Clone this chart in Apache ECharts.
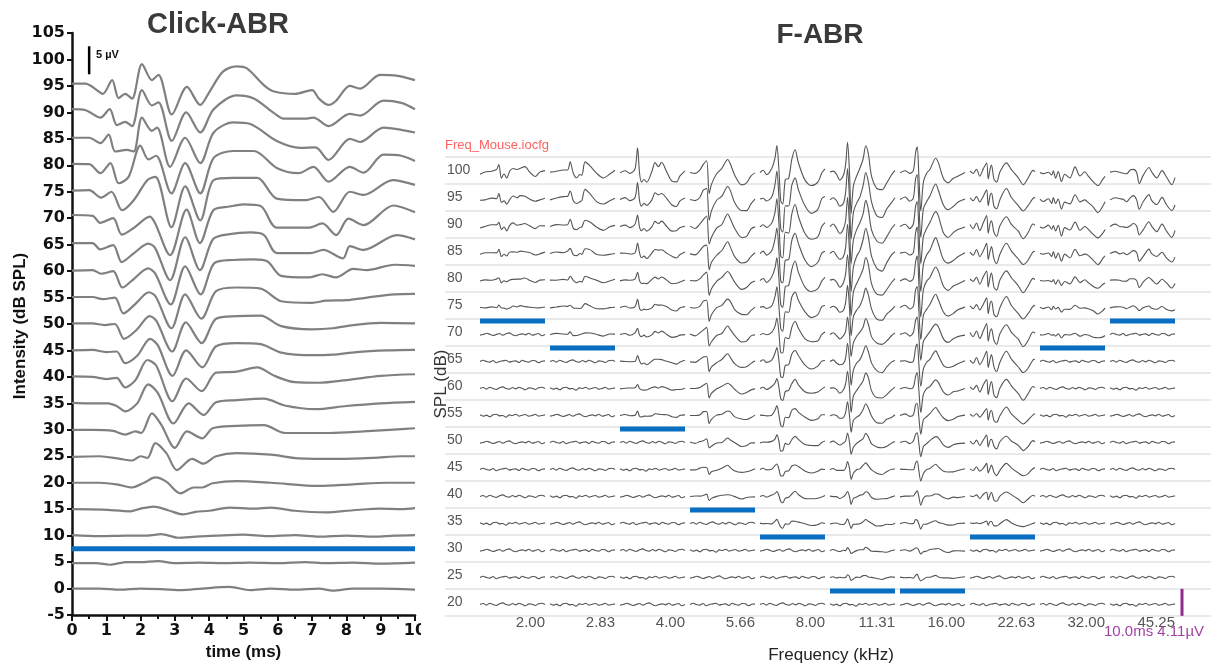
<!DOCTYPE html>
<html>
<head>
<meta charset="utf-8">
<script src="https://cdn.jsdelivr.net/npm/echarts@6/dist/echarts.min.js"></script>
<style>
html,body{margin:0;padding:0;background:#fff}
#chart{width:1211px;height:666px}
</style>
</head>
<body>
<div id="chart"></div>
<script>
// ================= Click-ABR (left panel) =================
// Each trace: [time (ms), deflection in dB-axis units] around its stimulus level.
const clickLevels = [95,90,85,80,75,70,65,60,55,50,45,40,35,30,25,20,15,10,5,0];
const click95 = [[0,0.45],[0.4,0.45],[0.6,-0.2],[0.9,-1.5],[1.17,1.1],[1.36,-2.3],[1.55,-1.5],[1.75,-2.4],[2.04,4.1],[2.33,1.1],[2.52,2.1],[2.91,-5.4],[3.35,-0.2],[3.74,-3.6],[4.0,-1.2],[4.4,2.7],[4.8,3.7],[5.1,3.3],[5.6,0.1],[5.87,-1.0],[6.5,-1.5],[7.0,-0.8],[7.2,-2.4],[7.48,-3.6],[7.7,-2.8],[8.1,0],[8.4,-0.5],[8.98,2.1],[9.5,1.9],[10,1.1]];
const click90 = [[0,0.6],[0.4,0.4],[0.83,-1.0],[1.1,0.6],[1.31,-2.4],[1.55,-1.8],[1.75,-2.6],[2.04,4.2],[2.33,1.3],[2.52,1.9],[2.91,-5.4],[3.33,0],[3.74,-3.8],[4.13,0.6],[4.8,3.2],[5.3,2.6],[5.9,-0.2],[6.17,-1.2],[6.8,-1.2],[7.04,-1.0],[7.48,-2.6],[8.1,-0.3],[8.4,-0.6],[9.08,2.2],[9.6,1.8],[10,0.6]];
const click85 = [[0,0.2],[0.5,0.2],[0.83,-0.8],[1.07,0.8],[1.26,-2.4],[1.6,-2.1],[1.8,-2.4],[2.04,4.0],[2.33,1.5],[2.48,2.1],[2.86,-5.3],[3.3,0.2],[3.74,-4.6],[4.13,1.2],[4.7,3.1],[5.2,2.8],[5.97,-0.4],[6.65,-1.7],[7.1,-1.6],[7.48,-4.0],[8.1,0],[8.4,-0.6],[9.08,2.1],[9.6,1.7],[10,1.2]];
const click80 = [[0,0.25],[0.5,0.2],[0.83,-1.5],[1.12,0.4],[1.36,-3.4],[1.65,-2.2],[1.99,3.7],[2.23,1.1],[2.45,1.8],[2.9,-5.3],[3.3,0.4],[3.74,-5.3],[4.13,1.4],[4.7,2.7],[5.3,2.7],[5.97,-0.5],[6.6,-1.5],[7.04,-0.3],[7.48,-3.1],[8.1,-0.3],[8.5,-1.4],[9.08,2.0],[9.6,1.8],[10,0.8]];
const click75 = [[0,0.2],[0.5,0.3],[0.85,-1.1],[1.15,0],[1.46,-3.5],[1.8,-1.6],[2.2,2.2],[2.43,2.8],[2.9,-6.7],[3.3,1.0],[3.74,-5.4],[4.13,2.2],[4.7,2.6],[5.4,2.6],[5.97,-1.3],[6.8,-1.6],[7.2,-1.0],[7.62,-3.8],[8.1,0],[8.5,-0.6],[9.35,2.2],[10,1.3]];
const click70 = [[0,0.6],[0.6,0.45],[0.82,-0.9],[1.2,0],[1.45,-3.1],[1.79,-1.9],[2.27,0.3],[2.42,-0.9],[2.86,-7.0],[3.34,1.6],[3.73,-4.7],[4.12,1.5],[4.6,2.2],[5.0,2.6],[5.5,2.3],[5.97,-1.8],[6.9,-1.8],[7.3,-1.0],[7.7,-3.2],[8.06,-0.1],[8.5,-1.3],[9.37,2.4],[10,1.1]];
const click65 = [[0,0.3],[0.6,0.3],[0.82,-0.9],[1.2,-0.1],[1.45,-3.3],[1.79,-1.7],[2.22,0.2],[2.42,-0.6],[2.86,-6.7],[3.3,1.4],[3.73,-4.8],[4.12,1.1],[4.6,2.0],[5.2,2.3],[5.6,1.8],[5.97,-1.6],[6.95,-1.6],[7.33,-1.0],[7.9,-2.6],[8.1,-0.3],[8.5,-1.0],[9.47,1.8],[10,1.0]];
const click60 = [[0,0.1],[0.6,0.2],[0.85,-0.5],[1.2,0],[1.47,-3.1],[1.8,-1.5],[2.22,0.5],[2.42,-0.4],[2.88,-6.3],[3.3,0.9],[3.75,-4.4],[4.15,1.5],[4.7,2.1],[5.3,2.2],[5.7,1.8],[6.1,-0.9],[6.9,-1.2],[7.3,-0.6],[7.7,-1.2],[8.2,0.4],[8.6,0.2],[9.4,1.2],[10,1.0]];
const click55 = [[0,0.1],[0.6,0.1],[0.9,-0.3],[1.25,0],[1.5,-3.0],[1.85,-1.2],[2.24,1.0],[2.44,0.2],[2.9,-5.8],[3.3,0.6],[3.77,-4.0],[4.2,1.2],[4.8,1.9],[5.5,1.7],[6.1,-0.7],[7.0,-1.0],[7.4,-0.6],[8.0,-0.5],[8.6,0],[9.4,0.6],[10,0.7]];
const click50 = [[0,0.1],[0.6,0.1],[0.95,-0.2],[1.25,0],[1.52,-2.8],[1.9,-1.0],[2.26,1.5],[2.46,0.6],[2.92,-5.2],[3.32,0.3],[3.78,-3.6],[4.2,1.0],[4.8,1.5],[5.5,1.6],[6.1,-0.4],[7.0,-1.0],[7.6,-0.8],[8.2,-0.2],[9.0,0.2],[10,0.1]];
const click45 = [[0,0],[0.6,0.1],[1.0,-0.3],[1.3,-0.2],[1.55,-2.4],[1.9,-1.0],[2.28,2.2],[2.5,1.0],[2.93,-4.8],[3.33,0],[3.8,-3.2],[4.2,0.8],[4.8,1.4],[5.5,1.2],[6.1,-0.4],[7.0,-0.9],[7.6,-0.8],[8.3,-0.3],[9.2,0],[10,0.1]];
const click40 = [[0,0.1],[0.6,0],[1.0,-0.4],[1.3,-0.2],[1.55,-2.0],[1.85,-0.6],[2.2,3.2],[2.45,2.2],[2.93,-4.6],[3.33,-0.3],[3.78,-2.7],[4.2,0.8],[4.8,1.0],[5.4,1.8],[5.9,0.2],[6.5,-1.0],[7.2,-1.1],[8.0,-0.6],[9.0,0.2],[10,0.5]];
const click35 = [[0,0.1],[0.6,0],[1.05,0],[1.3,-0.5],[1.55,-1.5],[1.9,0],[2.22,3.6],[2.5,2.0],[2.96,-3.8],[3.4,0],[3.84,-2.2],[4.2,0.2],[4.8,0.6],[5.6,0.9],[6.2,-0.4],[7.1,-1.1],[8.0,-0.5],[9.0,0],[10,0.3]];
const click30 = [[0,0],[0.6,0],[1.2,-0.2],[1.55,-0.9],[1.85,-0.3],[2.02,-0.6],[2.33,3.1],[2.6,1.0],[3.0,-3.4],[3.35,-0.3],[3.8,-1.6],[4.1,0.3],[4.8,0.75],[5.6,0.9],[6.2,-0.6],[7.5,-0.6],[8.5,-0.3],[9.5,0.1],[10,0.3]];
const click25 = [[0,-0.1],[0.8,0],[1.4,-0.5],[1.75,-0.8],[2.0,0],[2.2,-0.3],[2.43,2.5],[2.75,0.6],[3.06,-2.6],[3.5,-0.5],[3.83,-1.4],[4.2,0],[4.8,0.6],[5.8,0.3],[6.6,-0.4],[7.8,-0.5],[8.8,-0.3],[9.6,0],[10,0]];
const click20 = [[0,0],[0.8,0],[1.3,-0.3],[1.75,-0.9],[2.1,0],[2.43,1.0],[2.75,0.2],[3.16,-2.0],[3.55,-0.9],[3.8,-0.9],[4.1,-0.1],[4.8,0.3],[5.8,0],[7.2,-0.6],[8.2,-0.3],[9.2,0],[10,0]];
const click15 = [[0,0],[0.9,-0.1],[1.7,-0.4],[2.0,0.1],[2.38,0.5],[2.8,-0.2],[3.25,-1.0],[3.6,-0.5],[4.0,-0.3],[4.6,0.3],[5.3,0.1],[5.8,0.3],[6.5,-0.3],[7.4,-0.6],[8.2,-0.2],[9.0,0.1],[9.6,0],[10,0.2]];
const click10 = [[0,0.1],[0.8,-0.1],[1.6,0],[2.2,0],[2.6,0.3],[3.1,-0.4],[3.6,-0.2],[4.2,0],[5.0,0.2],[5.7,-0.1],[6.5,0.1],[7.2,-0.2],[8.0,0],[8.8,-0.2],[9.4,0],[10,0.1]];
const click5 = [[0,-0.2],[0.7,-0.2],[1.1,-0.5],[1.6,0],[2.0,0],[2.5,0.2],[3.0,-0.2],[3.7,-0.1],[4.4,-0.2],[5.2,-0.1],[6.0,-0.2],[6.8,0],[7.4,-0.2],[8.2,-0.1],[9.0,-0.3],[10,-0.1]];
const click0 = [[0,0],[0.8,0],[1.4,-0.2],[2.0,0],[2.6,-0.1],[3.2,-0.3],[3.8,0],[4.6,0.3],[5.2,-0.3],[5.8,0],[6.5,-0.2],[7.2,0],[7.6,-0.4],[8.2,0],[9.0,0],[10,-0.2]];
const clickTraces = [click95,click90,click85,click80,click75,click70,click65,click60,click55,click50,click45,click40,click35,click30,click25,click20,click15,click10,click5,click0];
const clickThreshold = 7.5;          // dB SPL
const clickScaleUv = 5;              // scale bar, µV
const CLICK_DB_PER_UV = 1.06;        // vertical size of 1 µV on the dB axis

// ================= F-ABR (right panel) =================
const FREQS = ['2.00','2.83','4.00','5.66','8.00','11.31','16.00','22.63','32.00','45.25'];
const SPL = [100,95,90,85,80,75,70,65,60,55,50,45,40,35,30,25,20];
const fThresholds = [72.5,67.5,52.5,37.5,32.5,22.5,22.5,32.5,67.5,72.5];
const fScaleUv = 4.11;
const F_DB_PER_UV = 5 / 4.11;        // one row (5 dB) spans 4.11 µV

// 100 dB response per frequency: [time (ms), µV]
const tpl2k    = [[0,-0.26],[0.77,0],[1.8,0.26],[2.56,0.36],[2.9,1.2],[3.3,-0.77],[3.7,-0.26],[4.1,-1.0],[4.6,0.26],[5.1,0.67],[5.7,0.36],[6.2,0.67],[6.9,0.77],[7.7,0],[8.5,-0.5],[9.2,0],[10,0.26]];
const tpl2_83k = [[0,0],[1,0.26],[2.05,0.36],[2.7,0.5],[3.1,1.55],[3.6,-0.26],[4.1,-0.77],[4.6,-0.3],[4.9,-0.26],[5.4,1.55],[6.15,1.0],[7.2,-0.26],[8.2,-0.77],[9.2,-0.26],[10,0.26]];
const tpl4k    = [[0,0],[0.8,0.26],[1.5,-0.26],[2.3,0.5],[2.7,3.85],[3.0,0],[3.3,-1.55],[3.7,-1.0],[4.1,-1.55],[4.9,0],[5.4,1.55],[5.9,1.0],[6.4,1.55],[7.2,0],[8.0,-1.3],[8.7,-1.55],[9.2,-0.5],[10,0.26]];
const tpl5_66k = [[0,0],[0.8,-0.26],[1.5,0.36],[2.05,1.3],[2.56,1.7],[2.95,-3.1],[3.3,-1.8],[4.1,-0.26],[4.9,0.5],[5.8,2.05],[6.2,1.3],[6.9,-0.5],[7.95,-1.8],[8.7,-1.7],[9.4,-0.5],[10,0]];
const tpl8k    = [[0,0],[0.5,0.26],[1.0,-0.26],[1.8,0.5],[2.3,2.2],[2.6,4.2],[2.9,0.5],[3.2,-4.5],[3.5,-4.8],[3.9,-1.0],[4.4,-1.0],[4.9,2.05],[5.4,3.35],[5.9,1.5],[6.9,-1.0],[7.9,-2.05],[8.9,-1.5],[9.5,0],[10,0.5]];
const tpl11_31k= [[0,0],[0.5,0.26],[1.0,-0.26],[1.5,-1.0],[2.05,-0.5],[2.4,1.0],[2.7,4.4],[3.0,0],[3.25,-5.8],[3.6,-2.0],[4.1,-0.5],[4.6,0.5],[5.1,2.05],[5.5,3.85],[5.9,2.6],[6.4,-0.5],[7.2,-2.3],[8.0,-2.6],[8.7,-1.5],[9.5,-0.3],[10,0.26]];
const tpl16k   = [[0,0],[0.8,0.26],[1.5,-0.26],[2.05,0.26],[2.4,3.1],[2.65,3.9],[2.9,-0.5],[3.2,-5.8],[3.6,-1.5],[4.1,-0.26],[4.6,0.5],[5.5,2.3],[5.9,1.5],[6.7,-1.0],[7.4,-1.55],[8.2,-1.0],[8.9,-0.5],[10,0]];
const tpl22_63k= [[0,0.26],[0.5,-0.26],[1.0,0.5],[1.5,-0.5],[2.05,0.5],[2.56,1.55],[2.8,-1.0],[3.1,0.5],[3.3,1.0],[3.7,-1.0],[4.1,-1.5],[4.6,0],[5.6,1.55],[6.4,0.26],[7.4,-0.77],[8.2,-1.8],[8.9,-1.0],[9.7,0.26],[10,0.26]];
const tpl32k   = [[0,0],[0.5,-0.26],[1.3,0.1],[1.8,-0.5],[2.05,0.26],[2.4,-0.77],[2.8,0.1],[3.3,-1.55],[3.8,-0.26],[4.6,-0.77],[5.4,0.77],[6.15,-0.5],[6.9,0],[7.4,-0.5],[8.2,-1.3],[8.9,-2.05],[9.7,-1.0],[10,-0.5]];
const tpl45_25k= [[0,0],[0.8,0.26],[1.5,0],[2.05,0],[2.56,-0.26],[3.1,0.26],[3.6,0.5],[4.1,0],[4.5,-1.55],[5.1,-0.5],[6.0,0.77],[6.4,0],[7.2,-0.77],[8.0,0.26],[8.7,-0.77],[9.5,-1.8],[10,-0.77]];
const templates = [tpl2k,tpl2_83k,tpl4k,tpl5_66k,tpl8k,tpl11_31k,tpl16k,tpl22_63k,tpl32k,tpl45_25k];

// relative response size per level (100 → 20 dB), 0 = no response
const g2k     = [1,0.7,0.6,0.45,0.35,0.25,0,0,0,0,0,0,0,0,0,0,0];
const g2_83k  = [1,0.9,0.65,0.5,0.38,0.28,0.2,0,0,0,0,0,0,0,0,0,0];
const g4k     = [1,0.65,0.45,0.4,0.35,0.3,0.25,0.22,0.18,0.15,0,0,0,0,0,0,0];
const g5_66k  = [1,1,0.9,0.8,0.7,0.65,0.6,0.5,0.42,0.36,0.3,0.24,0.16,0,0,0,0];
const g8k     = [1,1,1,0.95,0.85,0.72,0.6,0.53,0.38,0.33,0.28,0.23,0.2,0.12,0,0,0];
const g11_31k = [1.05,1.05,1.0,1.0,0.9,0.75,0.6,0.62,0.6,0.45,0.33,0.26,0.18,0.14,0.1,0.08,0];
const g16k    = [1,1,1,1,0.95,0.85,0.7,0.65,0.62,0.5,0.4,0.3,0.22,0.16,0.12,0.09,0];
const g22_63k = [1,1,1,1,1,1,1,1,0.95,0.75,0.65,0.6,0.5,0.3,0,0,0];
const g32k    = [1,0.95,0.9,0.8,0.6,0.45,0.3,0,0,0,0,0,0,0,0,0,0];
const g45_25k = [1,1,0.9,0.75,0.6,0.35,0,0,0,0,0,0,0,0,0,0,0];
const gains = [g2k,g2_83k,g4k,g5_66k,g8k,g11_31k,g16k,g22_63k,g32k,g45_25k];

// background EEG noise, µV, sampled every 0.5 ms
const noiseTimes = [0,0.5,1,1.5,2,2.5,3,3.5,4,4.5,5,5.5,6,6.5,7,7.5,8,8.5,9,9.5,10];
const noiseA = [0,0.15,-0.1,0.2,0,-0.15,0.1,0.25,0,-0.1,0.15,-0.05,0.2,0,-0.2,0.1,0.05,-0.15,0.1,0.2,0];
const noiseB = [0.1,-0.1,0.05,-0.2,0.1,0.2,-0.05,0,-0.25,0.1,0,0.2,-0.1,0.05,0.15,-0.1,0,0.2,-0.1,0,0.1];
const noiseC = [-0.1,0,0.2,0.05,-0.15,0,0.15,-0.1,0.1,0.25,-0.05,-0.2,0,0.1,-0.05,0.2,-0.1,0,0.15,-0.2,0];
const noiseD = [0,0.2,0,-0.1,0.15,-0.2,0,0.1,0.2,-0.1,0.05,0.1,-0.15,0.2,0,-0.1,0.15,0.1,-0.2,0.05,0.1];
const noises = [noiseA,noiseB,noiseC,noiseD];

// ================= chart =================
const BOLD = 'Liberation Sans, Arial, sans-serif';
const grid = [], xAxis = [], yAxis = [], series = [];

// left panel
grid.push({left:72, top:33, width:343, height:583});
xAxis.push({
  type:'value', gridIndex:0, min:0, max:10, interval:1,
  name:'time (ms)', nameLocation:'middle', nameGap:29,
  nameTextStyle:{fontFamily:BOLD, fontWeight:'bold', fontSize:17, color:'#111'},
  axisLine:{onZero:false, lineStyle:{color:'#111', width:2.5}},
  axisTick:{length:6, lineStyle:{color:'#111', width:2}},
  minorTick:{show:true, splitNumber:2, length:4, lineStyle:{color:'#111', width:2}},
  splitLine:{show:false},
  axisLabel:{fontFamily:'DejaVu Sans, sans-serif', fontWeight:'bold', fontSize:16, color:'#111', margin:8}
});
yAxis.push({
  type:'value', gridIndex:0, min:-5, max:105, interval:5,
  axisLine:{show:true, onZero:false, lineStyle:{color:'#111', width:2.5}},
  axisTick:{show:true, length:5, lineStyle:{color:'#111', width:2}},
  splitLine:{show:false},
  axisLabel:{fontFamily:'DejaVu Sans, sans-serif', fontWeight:'bold', fontSize:16, color:'#111', margin:7}
});
clickLevels.forEach((lvl, i) => {
  series.push({
    type:'line', xAxisIndex:0, yAxisIndex:0, showSymbol:false, smooth:0.3, silent:true,
    data: clickTraces[i].map(([t, d]) => [t, lvl + d]),
    lineStyle:{color:'#808080', width:2.2}
  });
});
series.push({
  type:'line', xAxisIndex:0, yAxisIndex:0, showSymbol:false, silent:true, z:5,
  data:[[0, clickThreshold],[10, clickThreshold]],
  lineStyle:{color:'#0a6fc2', width:5}
});
series.push({
  type:'line', xAxisIndex:0, yAxisIndex:0, showSymbol:false, silent:true,
  data:[[0.5, 97.2],[0.5, 97.2 + clickScaleUv * CLICK_DB_PER_UV]],
  lineStyle:{color:'#000', width:2.5}
});

// right panel: row bands with level labels
grid.push({left:445, right:0, top:157, height:459});
xAxis.push({type:'value', gridIndex:1, min:0, max:1, show:false});
yAxis.push({
  type:'category', gridIndex:1, data: SPL.slice().reverse().map(String),
  axisLine:{show:false}, axisTick:{show:false},
  splitLine:{show:true, lineStyle:{color:'#e3e3e3', width:1.5}},
  axisLabel:{inside:true, margin:2, color:'#555', fontSize:14, fontFamily:BOLD}
});

// right panel: one grid per frequency column
FREQS.forEach((f, c) => {
  const gi = c + 2;
  grid.push({left:480 + 70 * c, top:159, width:65, height:459});
  xAxis.push({
    type:'value', gridIndex:gi, min:0, max:10, interval:10,
    axisLine:{show:false, onZero:false}, axisTick:{show:false}, splitLine:{show:false},
    axisLabel:{formatter: v => (v === 10 ? f : ''), align:'right', verticalAlign:'middle',
      margin:5, fontSize:15, color:'#555', fontFamily:BOLD, showMinLabel:false, showMaxLabel:true}
  });
  yAxis.push({type:'value', gridIndex:gi, min:17.5, max:102.5, show:false});

  SPL.forEach((lvl, r) => {
    const g = gains[c][r];
    const nz = noises[(c + r) % 4];
    let data;
    if (g > 0) {
      data = templates[c].map(([t, d], k) => [t, lvl + (g * d + 0.6 * nz[k % nz.length]) * F_DB_PER_UV]);
    } else {
      data = noiseTimes.map((t, k) => [t, lvl + nz[k] * F_DB_PER_UV]);
    }
    series.push({
      type:'line', xAxisIndex:gi, yAxisIndex:gi, showSymbol:false, smooth:0.3, silent:true, clip:false,
      data, lineStyle:{color:'#555', width:1.1}
    });
  });
  series.push({
    type:'line', xAxisIndex:gi, yAxisIndex:gi, showSymbol:false, silent:true, clip:false, z:5,
    data:[[0, fThresholds[c]],[10, fThresholds[c]]],
    lineStyle:{color:'#0a6fc2', width:5}
  });
});

// 10 ms / 4.11 µV scale bar beside the last column (own narrow grid, same level scale)
const scaleGrid = grid.length;
grid.push({left:1177, top:159, width:10, height:459});
xAxis.push({type:'value', gridIndex:scaleGrid, min:0, max:1, show:false});
yAxis.push({type:'value', gridIndex:scaleGrid, min:17.5, max:102.5, show:false});
series.push({
  type:'line', xAxisIndex:scaleGrid, yAxisIndex:scaleGrid, showSymbol:false, silent:true, clip:false, z:6,
  data:[[0.5, 17.9],[0.5, 17.9 + fScaleUv * F_DB_PER_UV]],
  lineStyle:{color:'#8e2a8e', width:3}
});

const graphic = [
  {type:'rect', shape:{x:421, y:598, width:14, height:68}, style:{fill:'#fff'}, z:100},
  {type:'text', x:218, y:25, z:101, style:{text:'Click-ABR', font:'bold 29px ' + BOLD, fill:'#3a3a3a', align:'center', verticalAlign:'middle', textAlign:'center', textVerticalAlign:'middle'}},
  {type:'text', x:820, y:35, z:101, style:{text:'F-ABR', font:'bold 28px ' + BOLD, fill:'#3a3a3a', align:'center', verticalAlign:'middle', textAlign:'center', textVerticalAlign:'middle'}},
  {type:'text', x:20, y:326, rotation:Math.PI / 2, z:101, style:{text:'Intensity (dB SPL)', font:'bold 17px ' + BOLD, fill:'#111', align:'center', verticalAlign:'middle', textAlign:'center', textVerticalAlign:'middle'}},
  {type:'text', x:96, y:55, z:101, style:{text:'5 µV', font:'bold 11px ' + BOLD, fill:'#111', align:'left', verticalAlign:'middle', textAlign:'left', textVerticalAlign:'middle'}},
  {type:'text', x:445, y:145, z:101, style:{text:'Freq_Mouse.iocfg', font:'13px ' + BOLD, fill:'#ff6060', align:'left', verticalAlign:'middle', textAlign:'left', textVerticalAlign:'middle'}},
  {type:'text', x:441, y:384, rotation:Math.PI / 2, z:101, style:{text:'SPL (dB)', font:'17px ' + BOLD, fill:'#333', align:'center', verticalAlign:'middle', textAlign:'center', textVerticalAlign:'middle'}},
  {type:'text', x:831, y:655, z:101, style:{text:'Frequency (kHz)', font:'17px ' + BOLD, fill:'#222', align:'center', verticalAlign:'middle', textAlign:'center', textVerticalAlign:'middle'}},
  {type:'text', x:1104, y:632, z:101, style:{text:'10.0ms 4.11µV', font:'15px ' + BOLD, fill:'#a043a0', align:'left', verticalAlign:'middle', textAlign:'left', textVerticalAlign:'middle'}}
];

const chart = echarts.init(document.getElementById('chart'), null, {renderer:'canvas'});
chart.setOption({
  animation:false,
  backgroundColor:'#fff',
  grid, xAxis, yAxis, series, graphic
});
</script>
</body>
</html>
